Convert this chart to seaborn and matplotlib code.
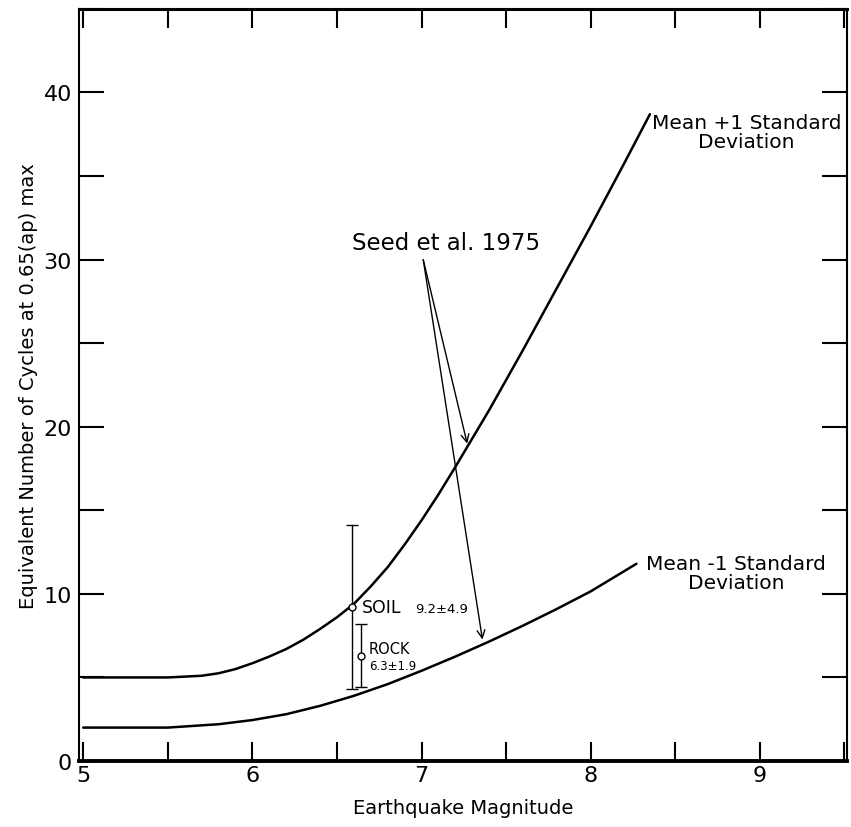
import numpy as np
import pandas as pd
import matplotlib
matplotlib.use("Agg")
import matplotlib.pyplot as plt
import seaborn as sns

# ---- data ----
upper_x = [5.0, 5.5, 5.7, 5.8, 5.9, 6.0, 6.1, 6.2, 6.3, 6.4, 6.5, 6.6, 6.7, 6.8, 6.9,
           7.0, 7.1, 7.2, 7.3, 7.4, 7.6, 7.8, 8.0, 8.2, 8.35]
upper_y = [5.0, 5.0, 5.1, 5.25, 5.5, 5.85, 6.25, 6.7, 7.25, 7.9, 8.6, 9.4, 10.45, 11.6, 12.95,
           14.4, 15.95, 17.6, 19.3, 21.0, 24.6, 28.3, 32.0, 35.8, 38.7]
lower_x = [5.0, 5.5, 5.8, 6.0, 6.2, 6.4, 6.6, 6.8, 7.0, 7.2, 7.4, 7.6, 7.8, 8.0, 8.27]
lower_y = [2.0, 2.0, 2.2, 2.45, 2.8, 3.3, 3.9, 4.6, 5.4, 6.25, 7.15, 8.1, 9.1, 10.15, 11.8]

site_names = ["SOIL", "ROCK"]
site_mag = [6.59, 6.64]
site_mean = [9.2, 6.3]
site_sd = [4.9, 1.9]
site_values = ["9.2±4.9", "6.3±1.9"]

x_ticks = [5.0, 5.5, 6.0, 6.5, 7.0, 7.5, 8.0, 8.5, 9.0, 9.5]
x_ticklabels = ["5", "", "6", "", "7", "", "8", "", "9", ""]
y_ticks = [0, 5, 10, 15, 20, 25, 30, 35, 40, 45]
y_ticklabels = ["0", "", "10", "", "20", "", "30", "", "40", ""]

df = pd.concat([
    pd.DataFrame({"mag": upper_x, "cycles": upper_y, "curve": "Mean +1 Standard Deviation"}),
    pd.DataFrame({"mag": lower_x, "cycles": lower_y, "curve": "Mean -1 Standard Deviation"}),
])

sns.set_theme(style="white")
plt.rcParams["font.family"] = ["DejaVu Sans"]
plt.rcParams["text.color"] = "black"
plt.rcParams["axes.labelcolor"] = "black"
plt.rcParams["xtick.color"] = "black"
plt.rcParams["ytick.color"] = "black"

fig = plt.figure(figsize=(8.51, 8.28), dpi=100)
ax = fig.add_axes([0.0928, 0.0797, 0.9025, 0.9083])

sns.lineplot(data=df, x="mag", y="cycles", units="curve", estimator=None,
             color="black", lw=1.8, ax=ax, legend=False)

# error bars
ax.errorbar(site_mag, site_mean, yerr=site_sd, fmt="o", ms=5, mfc="white",
            mec="black", mew=1.0, ecolor="black", elinewidth=1.0, capsize=4,
            capthick=1.0, zorder=5)

ax.text(site_mag[0] + 0.06, site_mean[0], site_names[0], fontsize=12.5,
        va="center", ha="left", color="black")
ax.text(6.96, site_mean[0] - 0.1, site_values[0], fontsize=9.5,
        va="center", ha="left", color="black")
ax.text(site_mag[1] + 0.05, site_mean[1] + 0.45, site_names[1], fontsize=10.5,
        va="center", ha="left", color="black")
ax.text(site_mag[1] + 0.05, site_mean[1] - 0.6, site_values[1], fontsize=8.5,
        va="center", ha="left", color="black")

# curve labels
ax.text(8.92, 38.8, "Mean +1 Standard\nDeviation", fontsize=14.5,
        ha="center", va="top", linespacing=1.0, color="black")
ax.text(8.86, 12.4, "Mean -1 Standard\nDeviation", fontsize=14.5,
        ha="center", va="top", linespacing=1.0, color="black")

# Seed et al. annotation
ax.text(7.70, 31.0, "Seed et al. 1975", fontsize=16.5, ha="right", va="center",
        color="black")
origin = (7.01, 30.0)
tip_up_x = 7.27
tip_lo_x = 7.36
ax.annotate("", xy=(tip_up_x, np.interp(tip_up_x, upper_x, upper_y) + 0.2), xytext=origin,
            arrowprops=dict(arrowstyle="->", color="black", lw=1.0,
                            shrinkA=0, shrinkB=0, mutation_scale=14))
ax.annotate("", xy=(tip_lo_x, np.interp(tip_lo_x, lower_x, lower_y) + 0.3), xytext=origin,
            arrowprops=dict(arrowstyle="->", color="black", lw=1.0,
                            shrinkA=0, shrinkB=0, mutation_scale=14))

ax.set_xlim(4.975, 9.515)
ax.set_ylim(0, 45)
ax.set_xticks(x_ticks)
ax.set_xticklabels(x_ticklabels)
ax.set_yticks(y_ticks)
ax.set_yticklabels(y_ticklabels)
ax.tick_params(axis="both", direction="in", top=True, right=True, left=True,
               bottom=True, color="black", labelcolor="black", labelsize=16, width=1.5)
ax.tick_params(axis="y", length=18, pad=5)
ax.tick_params(axis="x", length=14, pad=3)

ax.set_xlabel("Earthquake Magnitude", fontsize=14, labelpad=9, color="black")
ax.set_ylabel("Equivalent Number of Cycles at 0.65(ap) max", fontsize=14,
              labelpad=4, color="black")

for side, sp in ax.spines.items():
    sp.set_color("black")
    sp.set_linewidth(1.5)
ax.spines["bottom"].set_linewidth(2.8)
ax.spines["top"].set_linewidth(2.2)

fig.savefig("out.png", dpi=100, facecolor="white")
